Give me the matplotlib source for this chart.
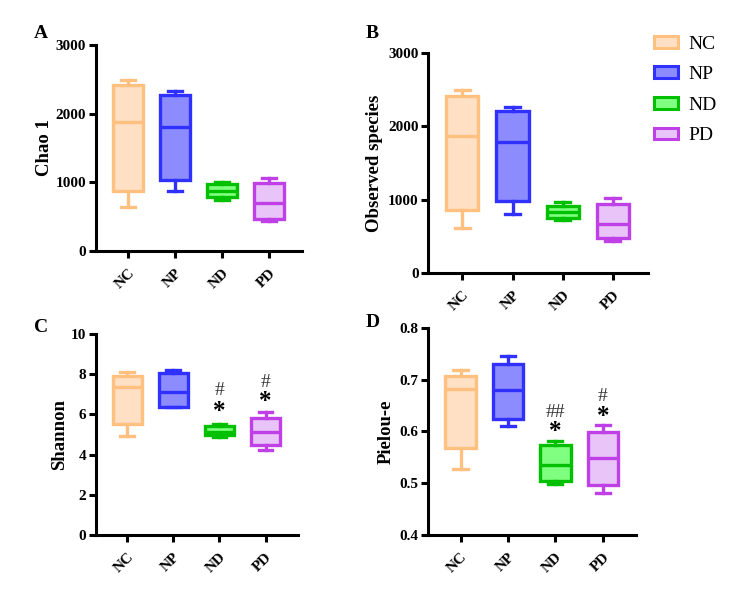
import numpy as np
import matplotlib
matplotlib.use('Agg')
import matplotlib.pyplot as plt
from matplotlib.patches import Rectangle

plt.rcParams['font.family'] = ['Liberation Serif', 'DejaVu Serif']

groups = ['NC', 'NP', 'ND', 'PD']
edge_colors = ['#FFC080', '#3030FF', '#00C000', '#C040E8']
fill_colors = ['#FFE0C4', '#8C8CFF', '#80FF80', '#E8C4F8']

# whisker low, q1, median, q3, whisker high per group
chao1 = [[646, 879, 1883, 2417, 2490],
         [879, 1034, 1811, 2272, 2335],
         [743, 791, 880, 976, 1010],
         [442, 471, 699, 995, 1068]]
observed = [[618, 855, 1864, 2409, 2500],
            [805, 977, 1782, 2214, 2264],
            [718, 750, 832, 918, 964],
            [432, 473, 668, 945, 1018]]
shannon = [[4.90, 5.50, 7.35, 7.90, 8.11],
           [6.37, 6.39, 7.09, 8.05, 8.21],
           [4.87, 4.98, 5.13, 5.43, 5.53],
           [4.21, 4.50, 5.13, 5.83, 6.11]]
pielou = [[0.528, 0.568, 0.683, 0.708, 0.719],
          [0.610, 0.625, 0.680, 0.731, 0.745],
          [0.499, 0.504, 0.535, 0.573, 0.582],
          [0.481, 0.497, 0.549, 0.598, 0.613]]

# significance marks: (group index, symbol, y)
shannon_marks = [(2, '#', 7.19), (2, '*', 6.14), (3, '#', 7.58), (3, '*', 6.64)]
pielou_marks = [(2, '##', 0.636), (2, '*', 0.599), (3, '#', 0.668), (3, '*', 0.629)]

fig = plt.figure(figsize=(7.5, 6.03), dpi=100)


def panel(rect, data, ylabel, yticks, ylim, letter, letter_xy, label_x, marks=None, ticklabels=None):
    ax = fig.add_axes(rect)
    stats = []
    for d in data:
        stats.append({'whislo': d[0], 'q1': d[1], 'med': d[2], 'q3': d[3], 'whishi': d[4], 'fliers': []})
    bp = ax.bxp(stats, positions=range(len(groups)), widths=0.64, patch_artist=True,
                showfliers=False, capwidths=0.3)
    for i in range(len(groups)):
        bp['boxes'][i].set_facecolor(fill_colors[i])
        bp['boxes'][i].set_edgecolor(edge_colors[i])
        bp['boxes'][i].set_linewidth(2.4)
        bp['medians'][i].set_color(edge_colors[i])
        bp['medians'][i].set_linewidth(2.4)
        for j in (2 * i, 2 * i + 1):
            bp['whiskers'][j].set_color(edge_colors[i])
            bp['whiskers'][j].set_linewidth(2.4)
            bp['caps'][j].set_color(edge_colors[i])
            bp['caps'][j].set_linewidth(2.4)
    ax.set_xlim(-0.68, 3.7)
    ax.set_ylim(*ylim)
    ax.set_yticks(yticks)
    if ticklabels is not None:
        ax.set_yticklabels(ticklabels)
    ax.set_xticks(range(len(groups)))
    ax.set_xticklabels(groups, rotation=45, ha='right', rotation_mode='anchor')
    for lab in ax.get_xticklabels() + ax.get_yticklabels():
        lab.set_fontweight('bold')
        lab.set_fontsize(11)
    ax.spines['top'].set_visible(False)
    ax.spines['right'].set_visible(False)
    ax.spines['left'].set_linewidth(2.2)
    ax.spines['bottom'].set_linewidth(2.2)
    ax.tick_params(width=2.2, length=5, pad=2)
    ax.tick_params(axis='x', pad=6)
    ax.set_ylabel(ylabel, fontsize=13.5, fontweight='bold')
    ax.yaxis.set_label_coords(label_x, 0.5)
    if marks:
        for gi, sym, y in marks:
            if sym == '*':
                ax.text(gi, y, sym, ha='center', va='center', fontsize=18, fontweight='bold')
            else:
                ax.text(gi, y, sym, ha='center', va='center', fontsize=14, color='#333333')
    fig.text(letter_xy[0], letter_xy[1], letter, fontsize=14, fontweight='bold', ha='left', va='center')
    return ax


panel([0.128, 0.584, 0.275, 0.341], chao1, 'Chao 1', [0, 1000, 2000, 3000], (0, 3000),
      'A', (0.045, 0.945), -0.21)
panel([0.571, 0.547, 0.293, 0.365], observed, 'Observed species', [0, 1000, 2000, 3000], (0, 3000),
      'B', (0.488, 0.945), -0.205)
panel([0.128, 0.113, 0.269, 0.333], shannon, 'Shannon', [0, 2, 4, 6, 8, 10], (0, 10),
      'C', (0.045, 0.457), -0.14, marks=shannon_marks)
panel([0.571, 0.113, 0.277, 0.343], pielou, 'Pielou-e', [0.4, 0.5, 0.6, 0.7, 0.8], (0.4, 0.8),
      'D', (0.488, 0.465), -0.162, marks=pielou_marks,
      ticklabels=['0.4', '0.5', '0.6', '0.7', '0.8'])

handles = [Rectangle((0, 0), 1, 1, facecolor=fill_colors[i], edgecolor=edge_colors[i], linewidth=2.2)
           for i in range(len(groups))]
fig.legend(handles, groups, loc='upper left', bbox_to_anchor=(0.849, 0.97), frameon=False,
           fontsize=14, handlelength=1.2, handleheight=0.55, labelspacing=0.7, handletextpad=0.55)

fig.savefig('out.png', dpi=100)
